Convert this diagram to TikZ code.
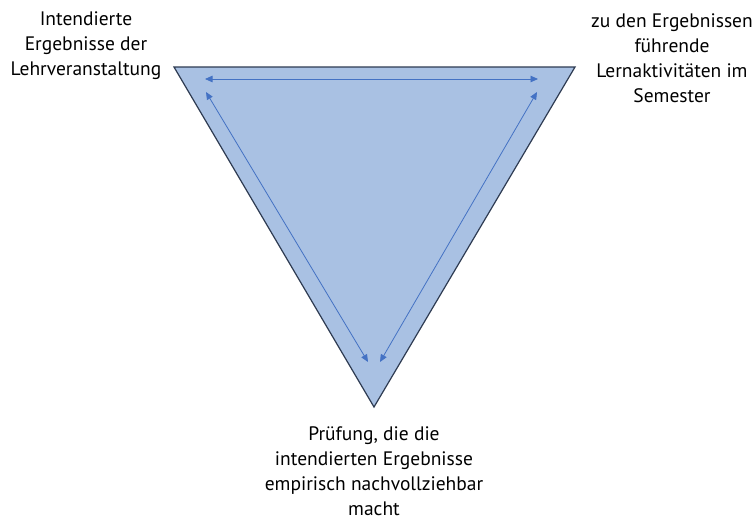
\documentclass[tikz,border=0pt]{standalone}
\usepackage{fontspec}
\setmainfont{PT Sans}
\usetikzlibrary{arrows.meta}
\definecolor{trifill}{HTML}{A9C1E3}
\definecolor{triline}{HTML}{2E3B52}
\definecolor{arrowblue}{HTML}{4472C4}
\begin{document}
\begin{tikzpicture}[x=1pt,y=-1pt,
  lbl/.style={align=center,font=\fontsize{19.5}{25}\selectfont,text=black,inner sep=0pt},
  conn/.style={draw=arrowblue,line width=0.8pt,{Triangle[length=7.5pt,width=6.5pt]}-{Triangle[length=7.5pt,width=6.5pt]}}]
\useasboundingbox (0,0) rectangle (754,519);
\fill[white] (0,0) rectangle (754,519);
\coordinate (A) at (174,67);
\coordinate (B) at (575,67);
\coordinate (C) at (374,407);
\draw[fill=trifill,draw=triline,line width=1.2pt,line join=miter] (A) -- (B) -- (C) -- cycle;
\coordinate (t1) at (205,79);
\coordinate (t2) at (538,79);
\coordinate (l1) at (206,92);
\coordinate (l2) at (368,362);
\coordinate (r1) at (537,92);
\coordinate (r2) at (380,362);
\draw[conn] (t1) -- (t2);
\draw[conn] (l1) -- (l2);
\draw[conn] (r1) -- (r2);
\node[lbl] (left) at (86,46) {Intendierte\\Ergebnisse der\\Lehrveranstaltung};
\node[lbl] (right) at (672,58) {zu den Ergebnissen\\führende\\Lernaktivitäten im\\Semester};
\node[lbl] (bottom) at (374,471) {Prüfung, die die\\intendierten Ergebnisse\\empirisch nachvollziehbar\\macht};
\end{tikzpicture}
\end{document}
